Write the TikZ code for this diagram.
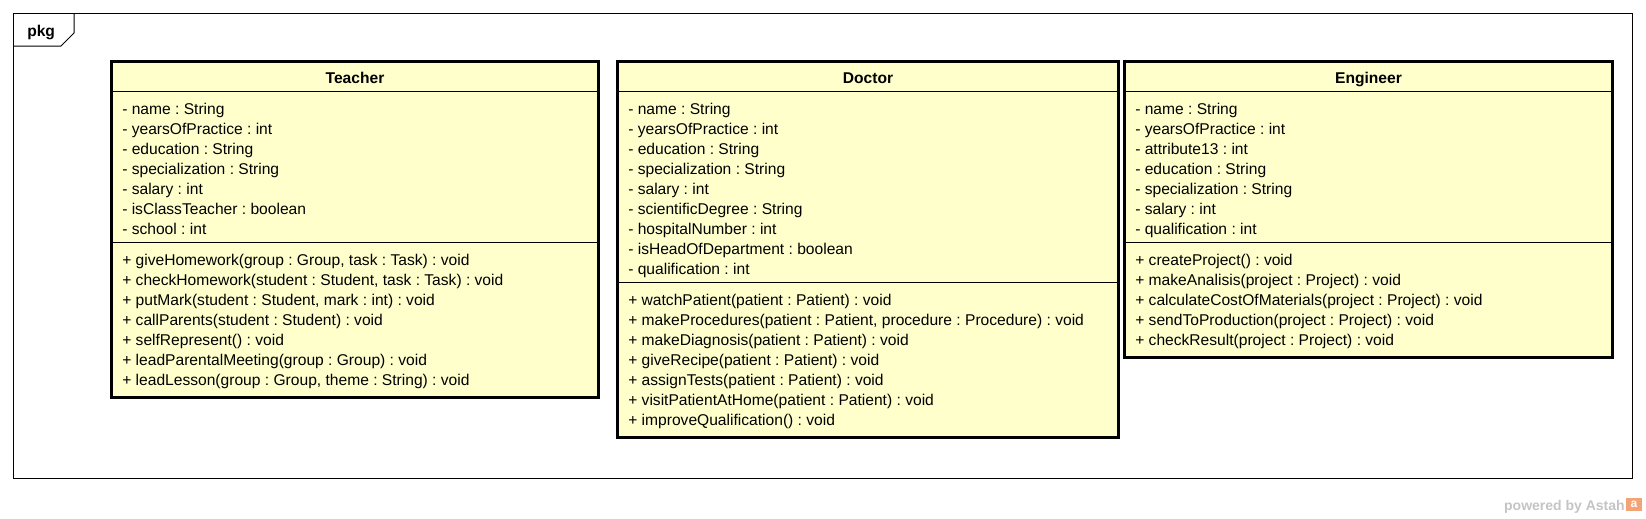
\documentclass[tikz,border=0pt]{standalone}
\usepackage{fontspec}
\setmainfont{Liberation Sans}
\usepackage{tikz}
\definecolor{classfill}{HTML}{FFFFCC}
\definecolor{astahgray}{HTML}{C4C4C4}
\definecolor{astahorange}{HTML}{F2A477}
\frenchspacing

\begin{document}
\begin{tikzpicture}[x=0.75pt, y=-0.75pt,
		classbox/.style={draw=black, line width=2.25pt, fill=classfill},
		sepline/.style={draw=black, line width=0.75pt},
		classname/.style={anchor=base, inner sep=0pt, font=\bfseries\fontsize{11.7}{14}\selectfont},
		member/.style={anchor=base west, inner sep=0pt, font=\fontsize{11.7}{14}\selectfont}]
	\useasboundingbox (0,0) rectangle (1646,518);
	
	% package frame
	\draw[line width=0.75pt] (13,13) rectangle (1632,478);
	\draw[line width=0.75pt] (74,13) -- (74,33) -- (61,46) -- (13,46);
	\node[anchor=base west, inner sep=0pt, font=\bfseries\fontsize{11.7}{14}\selectfont] (pkg) at (27,36.5) {pkg};
	
	% Teacher
	\draw[classbox] (111.5,61.5) rectangle (598.5,397);
	\draw[sepline] (111.5,91) -- (598.5,91);
	\draw[sepline] (111.5,242) -- (598.5,242);
	\node[classname] (teacher) at (355,83) {Teacher};
	\foreach \m [count=\i from 0] in {{- name : String}, {- yearsOfPractice : int}, {- education : String},
		{- specialization : String}, {- salary : int}, {- isClassTeacher : boolean}, {- school : int}}
		\node[member] (ta\i) at (122,114+20*\i) {\m};
	\foreach \m [count=\i from 0] in {{+ giveHomework(group : Group, task : Task) : void},
		{+ checkHomework(student : Student, task : Task) : void}, {+ putMark(student : Student, mark : int) : void},
		{+ callParents(student : Student) : void}, {+ selfRepresent() : void},
		{+ leadParentalMeeting(group : Group) : void}, {+ leadLesson(group : Group, theme : String) : void}}
		\node[member] (to\i) at (122,265+20*\i) {\m};
	
	% Doctor
	\draw[classbox] (617.5,61.5) rectangle (1118.5,437.5);
	\draw[sepline] (617.5,91) -- (1118.5,91);
	\draw[sepline] (617.5,282) -- (1118.5,282);
	\node[classname] (doctor) at (868,83) {Doctor};
	\foreach \m [count=\i from 0] in {{- name : String}, {- yearsOfPractice : int}, {- education : String},
		{- specialization : String}, {- salary : int}, {- scientificDegree : String}, {- hospitalNumber : int},
		{- isHeadOfDepartment : boolean}, {- qualification : int}}
		\node[member] (da\i) at (628,114+20*\i) {\m};
	\foreach \m [count=\i from 0] in {{+ watchPatient(patient : Patient) : void},
		{+ makeProcedures(patient : Patient, procedure : Procedure) : void}, {+ makeDiagnosis(patient : Patient) : void},
		{+ giveRecipe(patient : Patient) : void}, {+ assignTests(patient : Patient) : void},
		{+ visitPatientAtHome(patient : Patient) : void}, {+ improveQualification() : void}}
		\node[member] (do\i) at (628,305+20*\i) {\m};
	
	% Engineer
	\draw[classbox] (1124.5,61.5) rectangle (1612.5,357.5);
	\draw[sepline] (1124.5,91) -- (1612.5,91);
	\draw[sepline] (1124.5,242) -- (1612.5,242);
	\node[classname] (engineer) at (1368.5,83) {Engineer};
	\foreach \m [count=\i from 0] in {{- name : String}, {- yearsOfPractice : int}, {- attribute13 : int},
		{- education : String}, {- specialization : String}, {- salary : int}, {- qualification : int}}
		\node[member] (ea\i) at (1135,114+20*\i) {\m};
	\foreach \m [count=\i from 0] in {{+ createProject() : void}, {+ makeAnalisis(project : Project) : void},
		{+ calculateCostOfMaterials(project : Project) : void}, {+ sendToProduction(project : Project) : void},
		{+ checkResult(project : Project) : void}}
		\node[member] (eo\i) at (1135,265+20*\i) {\m};
	
	% watermark
	\node[anchor=base east, inner sep=0pt, text=astahgray, font=\bfseries\fontsize{10.5}{12}\selectfont] (powered) at (1625,510.5) {powered by Astah};
	\fill[astahorange] (1626,497.5) rectangle (1642,511);
	\node[inner sep=0pt, text=white, font=\bfseries\fontsize{9}{10}\selectfont] (logo) at (1634,504) {a};
\end{tikzpicture}
\end{document}
